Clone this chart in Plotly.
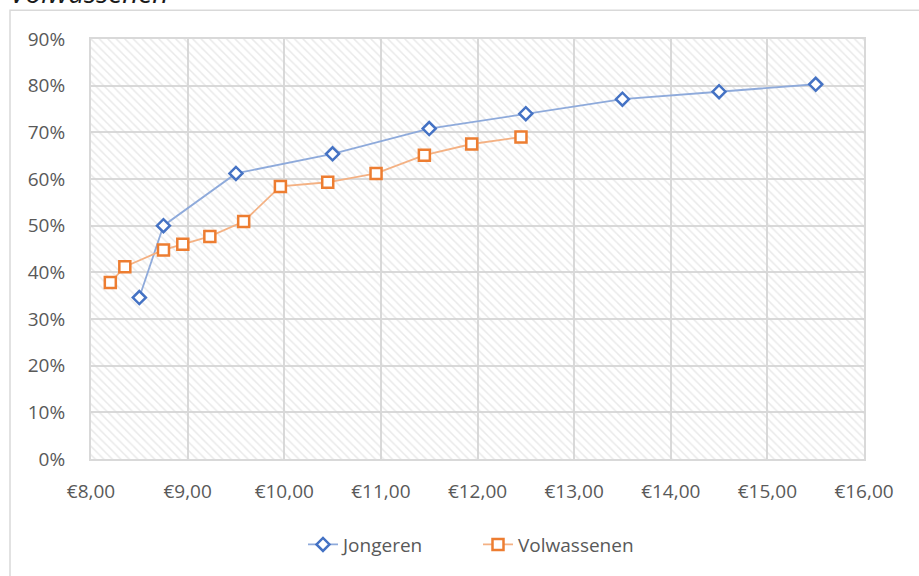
import plotly.graph_objects as go

# --- data ---
jong_x = [8.50, 8.75, 9.50, 10.50, 11.50, 12.50, 13.50, 14.50, 15.50]
jong_y = [0.346, 0.500, 0.612, 0.654, 0.708, 0.740, 0.771, 0.787, 0.803]

volw_x = [8.20, 8.35, 8.75, 8.95, 9.23, 9.58, 9.96, 10.45, 10.95, 11.45, 11.94, 12.45]
volw_y = [0.378, 0.412, 0.448, 0.460, 0.477, 0.509, 0.584, 0.593, 0.612, 0.651, 0.675, 0.690]

x_range = [8, 16]
y_range = [0, 0.9]

W, H = 919, 576
ML, MR, MT, MB = 91, 55, 39, 115
pw, ph = W - ML - MR, H - MT - MB

def px_x(p):
    return (p - ML) / pw

def px_y(p):
    return (H - MB - p) / ph

grey = "#595959"
grid = "#d9d9d9"

fig = go.Figure()

# hatched plot-area background
fig.add_trace(go.Scatter(
    x=[x_range[0], x_range[1], x_range[1], x_range[0], x_range[0]],
    y=[y_range[0], y_range[0], y_range[1], y_range[1], y_range[0]],
    mode="lines", fill="toself", line=dict(width=0),
    fillcolor="rgba(0,0,0,0)",
    fillpattern=dict(shape="\\", fgcolor="#d4d4d4", bgcolor="rgba(255,255,255,0)",
                     size=6, solidity=0.25),
    hoverinfo="skip", showlegend=False,
))

fig.add_trace(go.Scatter(
    x=jong_x, y=jong_y, name="Jongeren", mode="lines+markers",
    line=dict(color="#8eaadb", width=1.8),
    marker=dict(symbol="diamond", size=10, color="white",
                line=dict(color="#4472c4", width=2.5)),
))
fig.add_trace(go.Scatter(
    x=volw_x, y=volw_y, name="Volwassenen", mode="lines+markers",
    line=dict(color="#f4b183", width=1.8),
    marker=dict(symbol="square", size=11, color="white",
                line=dict(color="#ed7d31", width=2.5)),
))

# outer chart frame
fig.add_shape(type="rect", xref="paper", yref="paper",
              x0=px_x(10), x1=px_x(930), y0=px_y(600), y1=px_y(10),
              line=dict(color=grid, width=1.5), layer="below")

# title, cut off at the top edge as in the original
fig.add_annotation(text="<i>Volwassenen</i>", xref="paper", yref="paper",
                   x=px_x(8), y=px_y(13), xanchor="left", yanchor="bottom",
                   showarrow=False, font=dict(size=28, color="#1a1a1a"))

fig.update_layout(
    width=W, height=H,
    margin=dict(l=ML, r=MR, t=MT, b=MB),
    paper_bgcolor="white", plot_bgcolor="white",
    separators=",.",
    font=dict(family="Open Sans, sans-serif", color=grey, size=19),
    legend=dict(orientation="h", x=px_x(478), xanchor="center",
                y=px_y(547), yanchor="middle", font=dict(size=19, color=grey),
                entrywidth=130),
    xaxis=dict(range=x_range, dtick=1, tick0=8, tickprefix="€", tickformat=".2f",
               showgrid=True, gridcolor=grid, gridwidth=2, zeroline=False,
               showline=True, linecolor=grid, linewidth=2, mirror=True,
               ticks="", ticklabelstandoff=14, tickfont=dict(size=19, color=grey)),
    yaxis=dict(range=y_range, dtick=0.1, tickformat=".0%",
               showgrid=True, gridcolor=grid, gridwidth=2, zeroline=False,
               showline=True, linecolor=grid, linewidth=2, mirror=True,
               ticks="", ticklabelstandoff=20, tickfont=dict(size=19, color=grey)),
)

fig.write_html("out.html", config={"displayModeBar": False},
               post_script="document.body.style.margin='0';")
